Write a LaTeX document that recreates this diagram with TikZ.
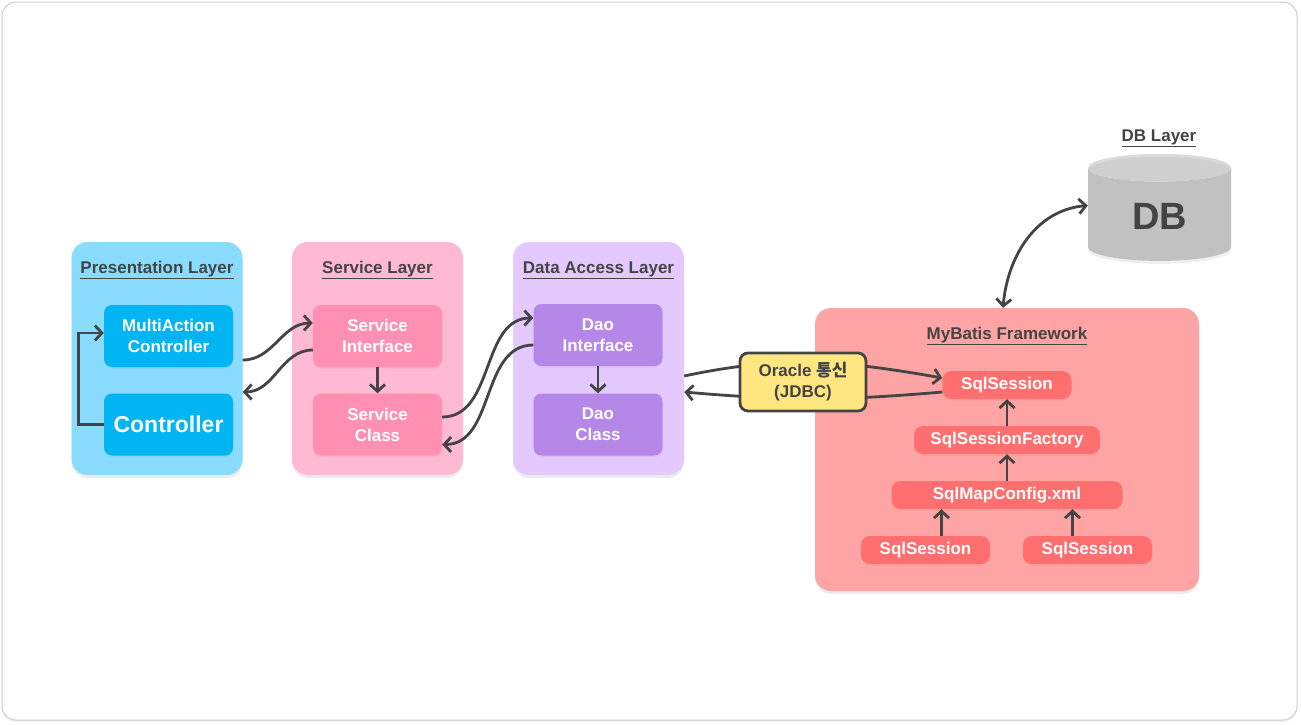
\documentclass[tikz,border=0pt]{standalone}
\usepackage{fontspec}
\setmainfont{Liberation Sans}
\newfontfamily\kr{Noto Sans CJK KR}
\usetikzlibrary{arrows.meta,shapes.geometric,shadows}
\definecolor{ink}{HTML}{444444}
\definecolor{preBg}{HTML}{8ADCFE}
\definecolor{preFg}{HTML}{00B5F2}
\definecolor{svcBg}{HTML}{FFB9D2}
\definecolor{svcFg}{HTML}{FF90B4}
\definecolor{daoBg}{HTML}{E3C9FE}
\definecolor{daoFg}{HTML}{B587E8}
\definecolor{mybBg}{HTML}{FFA4A4}
\definecolor{mybFg}{HTML}{FF6F6F}
\definecolor{oraBg}{HTML}{FFE680}
\definecolor{dbBody}{HTML}{CACACA}
\definecolor{dbTop}{HTML}{DADADA}

\begin{document}
\begin{tikzpicture}[x=1pt,y=-1pt,
    font=\bfseries\fontsize{17}{21}\selectfont,
    >={Straight Barb[length=7pt,width=15pt]},
    frame/.style={draw=black!20, fill=white, line width=1pt, rounded corners=14pt,
        drop shadow={shadow xshift=0pt,shadow yshift=-2pt,opacity=.12}},
    layer/.style={rounded corners=16pt, minimum width=171pt, minimum height=233pt,
        drop shadow={shadow xshift=0pt,shadow yshift=-3pt,opacity=.15}},
    title/.style={text=ink},
    box/.style={rounded corners=8pt, minimum width=129pt, minimum height=62pt,
        text=white, align=center,
        drop shadow={shadow xshift=0pt,shadow yshift=-1.5pt,opacity=.1}},
    sql/.style={fill=mybFg, rounded corners=9pt, minimum height=28pt, text=white,
        drop shadow={shadow xshift=0pt,shadow yshift=-1.5pt,opacity=.1}},
    arr/.style={->, draw=ink, line width=2.8pt},
    ora/.style={fill=oraBg, draw=ink, line width=2.8pt, rounded corners=8pt,
        minimum width=126pt, minimum height=58pt, text=ink, align=center}]

\useasboundingbox (0,0) rectangle (1301,724);
\draw[frame] (2,2) rectangle (1297,720);

\node[layer, fill=preBg] (pres) at (157,358.5) {};
\node[title] (ptitle) at (157,270) {\underline{Presentation Layer}};
\node[box, fill=preFg] (mac) at (168.5,336) {MultiAction\\Controller};
\node[box, fill=preFg, font=\bfseries\fontsize{23}{26}\selectfont] (ctrl) at (168.5,424.5) {Controller};

\node[layer, fill=svcBg] (svc) at (377.5,358.5) {};
\node[title] (stitle) at (377.5,270) {\underline{Service Layer}};
\node[box, fill=svcFg] (sint) at (377.5,336) {Service\\Interface};
\node[box, fill=svcFg] (scls) at (377.5,424.5) {Service\\Class};

\node[layer, fill=daoBg] (data) at (598.5,358.5) {};
\node[title] (dtitle) at (598.5,270) {\underline{Data Access Layer}};
\node[box, fill=daoFg] (dint) at (598,335) {Dao\\Interface};
\node[box, fill=daoFg] (dcls) at (598,424.5) {Dao\\Class};

\node[layer, fill=mybBg, minimum width=384pt, minimum height=283pt] (myb) at (1007,449.5) {};
\node[title] (mtitle) at (1007,336) {\underline{MyBatis Framework}};
\node[sql, minimum width=129pt] (sql1) at (1007,385) {SqlSession};
\node[sql, minimum width=186pt] (sqlf) at (1007,440) {SqlSessionFactory};
\node[sql, minimum width=231pt] (cfg) at (1007,495) {SqlMapConfig.xml};
\node[sql, minimum width=129pt] (s2) at (925.5,550) {SqlSession};
\node[sql, minimum width=129pt] (s3) at (1087.5,550) {SqlSession};

\node[title] (dbtitle) at (1159,138) {\underline{DB Layer}};
\node[cylinder, shape border rotate=90, aspect=0.45, minimum width=143pt, minimum height=107pt,
    cylinder uses custom fill, cylinder body fill=dbBody, cylinder end fill=dbTop,
    text=ink, font=\bfseries\fontsize{38}{40}\selectfont,
    drop shadow={shadow xshift=0pt,shadow yshift=-3pt,opacity=.12}] (db) at (1159.5,216.5) {DB};

\draw[arr] (ctrl.west) -- ++(-25,0) |- ([shift={(0,-3)}]mac.west);
\draw[arr] ([shift={(0,1.5)}]pres.east) to[out=0,in=180] ([shift={(0,-13)}]sint.west);
\draw[arr] ([shift={(0,14)}]sint.west) to[out=180,in=0] ([shift={(0,33.5)}]pres.east);
\draw[arr] (sint) -- (scls);
\draw[arr] ([shift={(0,-7.5)}]scls.east) to[out=0,in=180] ([shift={(0,-17)}]dint.west);
\draw[arr] ([shift={(0,10)}]dint.west) to[out=180,in=0] ([shift={(0,20)}]scls.east);
\draw[arr] (dint) -- (dcls);
\draw[arr] ([shift={(0,17.5)}]data.east) to[out=12,in=170] ([shift={(0,-7)}]sql1.west);
\draw[arr] ([shift={(0,7)}]sql1.west) to[out=185,in=-5] ([shift={(0,33.5)}]data.east);
\node[ora] (oracle) at (803,382) {Oracle {\kr 통신}\\(JDBC)};
\draw[arr] (sqlf) -- (sql1);
\draw[arr] (cfg) -- (sqlf);
\draw[arr] ([shift={(16,0)}]s2.north) -- ([shift={(16,0)}]s2.north |- cfg.south);
\draw[arr] ([shift={(-15,0)}]s3.north) -- ([shift={(-15,0)}]s3.north |- cfg.south);
\draw[arr, <->] ([shift={(-4,0)}]myb.north) to[out=85,in=185] ([shift={(0,-11)}]db.west);
\end{tikzpicture}
\end{document}
